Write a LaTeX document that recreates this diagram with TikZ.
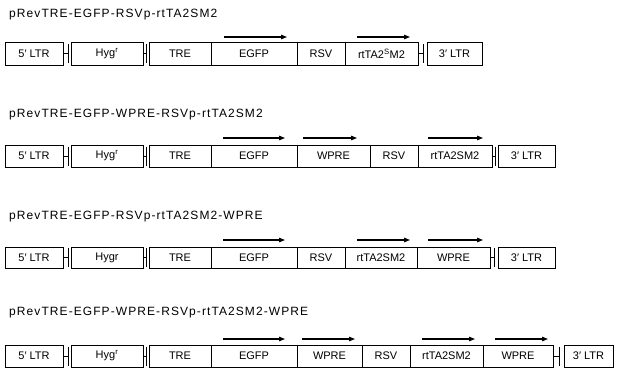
\documentclass[tikz,border=0pt]{standalone}
\usepackage{fontspec}
\setmainfont{Liberation Sans}
\newfontfamily\titlefont[LetterSpace=9]{Liberation Sans}
\usetikzlibrary{arrows.meta}
\begin{document}
\begin{tikzpicture}[x=1pt,y=-1pt,
  gbox/.style={draw, line width=0.75pt, inner sep=0pt, outer sep=0pt, anchor=west, font=\fontsize{11}{13}\selectfont},
  ttl/.style={anchor=west, inner sep=0pt, font=\titlefont\fontsize{12}{14}\selectfont},
  conn/.style={line width=0.75pt},
  garrow/.style={line width=1.2pt, -{Triangle[length=6pt,width=4.5pt]}}]
\useasboundingbox (0,0) rectangle (620,369);
\newcommand\gbox[6]{\node[gbox, minimum width={#3-#2}, minimum height={#5-#4}] (#1) at (#2,{(#4+#5)/2}) {#6};}
\newcommand\gconn[4]{\coordinate (#1) at (#3,#4); \draw[conn] (#2.east) -- (#1); \draw[conn] ([yshift=9.5pt]#1) -- ([yshift=-9.5pt]#1);}
\newcommand\garr[4]{\coordinate (#1s) at (#2,#4); \coordinate (#1e) at (#3,#4); \draw[garrow] (#1s) -- (#1e);}

% Row 1
\node[ttl] (t1) at (9,15) {pRevTRE-EGFP-RSVp-rtTA2SM2};
\gbox{a1}{5}{63}{42}{65}{5′ LTR}
\gconn{ac1}{a1}{68}{53.5}
\gbox{a2}{71}{143}{42}{65}{Hyg\textsuperscript{r}}
\gconn{ac2}{a2}{146}{53.5}
\gbox{a3}{149}{211}{42}{65}{TRE}
\gbox{a4}{211}{297}{42}{65}{EGFP}
\gbox{a5}{297}{345}{42}{65}{RSV}
\gbox{a6}{345}{418}{42}{65}{rtTA2\textsuperscript{S}M2}
\gconn{ac3}{a6}{423}{53.5}
\gbox{a7}{427}{482}{42}{65}{3′ LTR}
\garr{aa1}{224}{287}{37}
\garr{aa2}{357}{410}{37}

% Row 2
\node[ttl] (t2) at (9,115) {pRevTRE-EGFP-WPRE-RSVp-rtTA2SM2};
\gbox{b1}{5}{63}{145}{167}{5′ LTR}
\gconn{bc1}{b1}{68}{156}
\gbox{b2}{71}{143}{145}{167}{Hyg\textsuperscript{r}}
\gconn{bc2}{b2}{146}{156}
\gbox{b3}{149}{211}{145}{167}{TRE}
\gbox{b4}{211}{297}{145}{167}{EGFP}
\gbox{b5}{297}{370}{145}{167}{WPRE}
\gbox{b6}{370}{418}{145}{167}{RSV}
\gbox{b7}{418}{492}{145}{167}{rtTA2SM2}
\gconn{bc3}{b7}{495}{156}
\gbox{b8}{498}{555}{145}{167}{3′ LTR}
\garr{ba1}{223}{285}{138}
\garr{ba2}{303}{357}{138}
\garr{ba3}{428}{483}{138}

% Row 3
\node[ttl] (t3) at (9,217) {pRevTRE-EGFP-RSVp-rtTA2SM2-WPRE};
\gbox{c1}{5}{63}{247}{268}{5′ LTR}
\gconn{cc1}{c1}{68}{257.5}
\gbox{c2}{71}{143}{247}{268}{Hygr}
\gconn{cc2}{c2}{146}{257.5}
\gbox{c3}{149}{211}{247}{268}{TRE}
\gbox{c4}{211}{297}{247}{268}{EGFP}
\gbox{c5}{297}{345}{247}{268}{RSV}
\gbox{c6}{345}{417}{247}{268}{rtTA2SM2}
\gbox{c7}{417}{490}{247}{268}{WPRE}
\gconn{cc3}{c7}{494}{257.5}
\gbox{c8}{498}{555}{247}{268}{3′ LTR}
\garr{ca1}{223}{285}{240}
\garr{ca2}{357}{410}{240}
\garr{ca3}{428}{483}{240}

% Row 4
\node[ttl] (t4) at (9,313) {pRevTRE-EGFP-WPRE-RSVp-rtTA2SM2-WPRE};
\gbox{d1}{5}{63}{345}{367}{5′ LTR}
\gconn{dc1}{d1}{68}{356}
\gbox{d2}{71}{143}{345}{367}{Hyg\textsuperscript{r}}
\gconn{dc2}{d2}{146}{356}
\gbox{d3}{149}{211}{345}{367}{TRE}
\gbox{d4}{211}{297}{345}{367}{EGFP}
\gbox{d5}{297}{362}{345}{367}{WPRE}
\gbox{d6}{362}{410}{345}{367}{RSV}
\gbox{d7}{410}{483}{345}{367}{rtTA2SM2}
\gbox{d8}{483}{553}{345}{367}{WPRE}
\gconn{dc3}{d8}{559}{356}
\gbox{d9}{564}{613}{345}{367}{3′ LTR}
\garr{da1}{223}{285}{339}
\garr{da2}{302}{355}{339}
\garr{da3}{422}{475}{339}
\garr{da4}{495}{548}{339}
\end{tikzpicture}
\end{document}
